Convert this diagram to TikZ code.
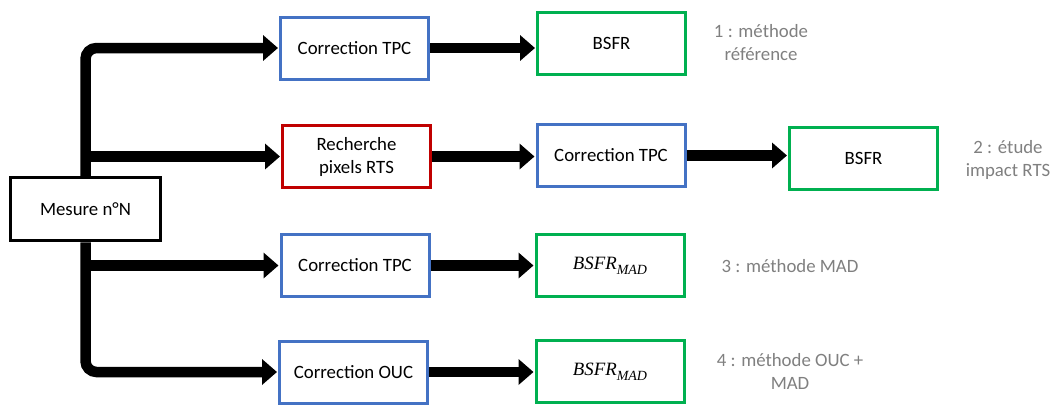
\documentclass[tikz,border=0pt]{standalone}
\usepackage{fontspec}
\setmainfont{Carlito}
\newfontfamily\libser{Liberation Serif}
\usetikzlibrary{arrows.meta}
\definecolor{bblue}{RGB}{68,114,196}
\definecolor{bgreen}{RGB}{0,176,80}
\definecolor{bred}{RGB}{192,0,0}
\definecolor{lgrey}{RGB}{128,128,128}
\newcommand{\bsfrmad}{{\libser\itshape BSFR\raisebox{-0.28em}{\fontsize{14}{14}\selectfont MAD}}}
\tikzset{
  box/.style={draw, line width=3pt, fill=white, minimum width=148pt, minimum height=62pt, inner sep=0pt, align=center, font=\fontsize{18.8}{23}\selectfont},
  bluebox/.style={box, draw=bblue},
  greenbox/.style={box, draw=bgreen},
  redbox/.style={box, draw=bred},
  blackbox/.style={box, draw=black, line width=3.5pt, minimum width=150pt, minimum height=63pt},
  arr/.style={line width=10.5pt, -{Triangle[length=15pt,width=25pt]}, shorten >=1pt},
  lab/.style={text=lgrey, align=center, font=\fontsize{18.8}{23}\selectfont}
}
\begin{document}
\begin{tikzpicture}[x=1pt,y=-1pt]
\useasboundingbox[fill=white] (0,0) rectangle (1054,405);
% nodes
\node[blackbox] (mes) at (85.5,209) {Mesure n°N};
\node[bluebox] (c1) at (354.5,48) {Correction TPC};
\node[greenbox] (b1) at (611.5,43) {BSFR};
\node[redbox] (r2) at (356.5,156.5) {Recherche\\pixels RTS};
\node[bluebox] (c2) at (611,155.5) {Correction TPC};
\node[greenbox] (b2) at (863.5,158) {BSFR};
\node[bluebox] (c3) at (355,265.5) {Correction TPC};
\node[greenbox] (b3) at (610,265.5) {\bsfrmad};
\node[bluebox] (c4) at (353.5,372) {Correction OUC};
\node[greenbox] (b4) at (610,371.5) {\bsfrmad};
% labels
\node[lab] (l1) at (761,43) {1 : méthode\\référence};
\node[lab] (l2) at (1008,160) {2 : étude\\impact RTS};
\node[lab] (l3) at (790,266) {3 : méthode MAD};
\node[lab] (l4) at (790,371) {4 : méthode OUC +\\MAD};
% trunk and branches
\draw[arr, rounded corners=11pt] (mes.north) |- (c1.west);
\draw[arr, rounded corners=11pt] (mes.south) |- (c4.west);
\draw[arr] (mes.north |- r2.west) -- (r2.west);
\draw[arr] (mes.south |- c3.west) -- (c3.west);
% inner arrows
\draw[arr] (c1.east) -- (c1.east -| b1.west);
\draw[arr] (r2.east) -- (r2.east -| c2.west);
\draw[arr] (c2.east) -- (c2.east -| b2.west);
\draw[arr] (c3.east) -- (c3.east -| b3.west);
\draw[arr] (c4.east) -- (c4.east -| b4.west);
% redraw mesure box on top of trunk
\node[blackbox] at (mes) {Mesure n°N};
\end{tikzpicture}
\end{document}
